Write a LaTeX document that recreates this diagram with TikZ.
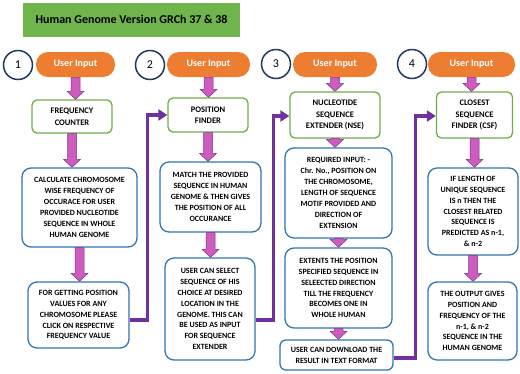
\documentclass[tikz,border=0pt]{standalone}
\usepackage{fontspec}
\setmainfont{Carlito}
\usetikzlibrary{arrows.meta,calc}

\definecolor{titlegreen}{RGB}{112,181,76}
\definecolor{boxgreen}{RGB}{112,173,71}
\definecolor{boxblue}{RGB}{46,117,182}
\definecolor{pillorange}{RGB}{237,125,49}
\definecolor{ringblue}{RGB}{31,56,100}
\definecolor{linkpurple}{RGB}{112,48,160}
\definecolor{arrowpink}{RGB}{204,92,190}
\definecolor{arrowedge}{RGB}{130,50,140}

\tikzset{
  every picture/.style={line width=0.75pt},
  titlebox/.style={fill=titlegreen, minimum width=217pt, minimum height=34pt, font=\bfseries\fontsize{12}{14}\selectfont},
  stepnum/.style={circle, draw=ringblue, line width=1.5pt, fill=white, minimum size=29pt, inner sep=0pt, font=\fontsize{12}{14}\selectfont},
  userpill/.style={fill=pillorange, rounded corners=12pt, minimum height=25pt, text=white, font=\bfseries\fontsize{10}{12}\selectfont},
  toolbox/.style={draw=boxgreen, line width=1.3pt, rounded corners=5pt, fill=white, align=center, inner sep=0pt, font=\bfseries\fontsize{8.5}{11.5}\selectfont},
  infobox/.style={draw=boxblue, line width=1.3pt, rounded corners=9pt, fill=white, align=center, inner sep=0pt, font=\bfseries\fontsize{8}{10.9}\selectfont},
  pinkarr/.style={fill=arrowpink, draw=arrowedge, line width=0.5pt},
  linkarr/.style={draw=linkpurple, line width=3.5pt, -{Triangle[length=9pt,width=11pt]}}
}

\newcommand{\pinkarrow}[2]{%
  \draw[pinkarr] let \p1=(#1.south), \p2=(#2.north) in
    (\x1-4.5pt,\y1) -- (\x1-4.5pt,\y2+8pt) -- (\x1-8.5pt,\y2+8pt) -- (\x1,\y2)
    -- (\x1+8.5pt,\y2+8pt) -- (\x1+4.5pt,\y2+8pt) -- (\x1+4.5pt,\y1) -- cycle;}

\begin{document}
\begin{tikzpicture}[x=1pt, y=-1pt]
    \useasboundingbox (0,0) rectangle (520,373);
    \node[titlebox] (title) at (131.5,19.5) {Human Genome Version GRCh 37 \& 38};

    \node[stepnum] (n1) at (18,65) {1};
    \node[stepnum] (n2) at (150,65) {2};
    \node[stepnum] (n3) at (276,64) {3};
    \node[stepnum] (n4) at (412,64) {4};

    \node[userpill, minimum width=79pt] (u1) at (75.5,64.5) {User Input};
    \node[userpill, minimum width=83pt] (u2) at (208.5,64.5) {User Input};
    \node[userpill, minimum width=84pt] (u3) at (335,64.5) {User Input};
    \node[userpill, minimum width=87pt] (u4) at (471.5,64.5) {User Input};

    \node[toolbox, minimum width=80pt, minimum height=33pt] (g1) at (72,116.5) {FREQUENCY\\COUNTER};
    \node[toolbox, minimum width=80pt, minimum height=34pt] (g2) at (208,115) {POSITION\\FINDER};
    \node[toolbox, minimum width=90pt, minimum height=46pt] (g3) at (335,115) {NUCLEOTIDE\\SEQUENCE\\EXTENDER (NSE)};
    \node[toolbox, minimum width=76pt, minimum height=46pt] (g4) at (474.5,115) {CLOSEST\\SEQUENCE\\FINDER (CSF)};

    \node[infobox, minimum width=115pt, minimum height=79pt] (b1) at (79.5,207.5) {CALCULATE CHROMOSOME\\WISE FREQUENCY OF\\OCCURACE FOR USER\\PROVIDED NUCLEOTIDE\\SEQUENCE IN WHOLE\\HUMAN GENOME};
    \node[infobox, minimum width=101pt, minimum height=66pt] (b2) at (78.5,315) {FOR GETTING POSITION\\VALUES FOR ANY\\CHROMOSOME PLEASE\\CLICK ON RESPECTIVE\\FREQUENCY VALUE};
    \node[infobox, minimum width=101pt, minimum height=70pt] (b3) at (210.5,197) {MATCH THE PROVIDED\\SEQUENCE IN HUMAN\\GENOME \& THEN GIVES\\THE POSITION OF ALL\\OCCURANCE};
    \node[infobox, minimum width=90pt, minimum height=102pt] (b4) at (210,309) {USER CAN SELECT\\SEQUENCE OF HIS\\CHOICE AT DESIRED\\LOCATION IN THE\\GENOME. THIS CAN\\BE USED AS INPUT\\FOR SEQUENCE\\EXTENDER};
    \node[infobox, minimum width=107pt, minimum height=90pt] (b5) at (338.5,193) {REQUIRED INPUT: -\\Chr. No., POSITION ON\\THE CHROMOSOME,\\LENGTH OF SEQUENCE\\MOTIF PROVIDED AND\\DIRECTION OF\\EXTENSION};
    \node[infobox, minimum width=107pt, minimum height=80pt] (b6) at (338.5,288) {EXTENTS THE POSITION\\SPECIFIED SEQUENCE IN\\SELEECTED DIRECTION\\TILL THE FREQUENCY\\BECOMES ONE IN\\WHOLE HUMAN};
    \node[infobox, minimum width=113pt, minimum height=30pt, rounded corners=6pt] (b7) at (336.5,355) {USER CAN DOWNLOAD THE\\RESULT IN TEXT FORMAT};
    \node[infobox, minimum width=90pt, minimum height=87pt] (b8) at (473,211.5) {IF LENGTH OF\\UNIQUE SEQUENCE\\IS n THEN THE\\CLOSEST RELATED\\SEQUENCE IS\\PREDICTED AS n-1,\\\& n-2};
    \node[infobox, minimum width=89pt, minimum height=78pt] (b9) at (472.5,321) {THE OUTPUT GIVES\\POSITION AND\\FREQUENCY OF THE\\n-1, \& n-2\\SEQUENCE IN THE\\HUMAN GENOME};

    \pinkarrow{u1}{g1}
    \pinkarrow{g1}{b1}
    \pinkarrow{b1}{b2}
    \pinkarrow{u2}{g2}
    \pinkarrow{g2}{b3}
    \pinkarrow{b3}{b4}
    \pinkarrow{u3}{g3}
    \pinkarrow{g3}{b5}
    \pinkarrow{b5}{b6}
    \pinkarrow{b6}{b7}
    \pinkarrow{u4}{g4}
    \pinkarrow{g4}{b8}
    \pinkarrow{b8}{b9}

    \draw[linkarr] ([yshift=-5pt]b2.east) -- ++(18,0) |- (g2.west);
    \draw[linkarr] ([yshift=-11pt]b4.east) -- ++(18,0) |- ([yshift=-1pt]g3.west);
    \draw[linkarr] ([yshift=-3pt]b7.east) -- ++(22,0) |- ([yshift=-1pt]g4.west);
\end{tikzpicture}
\end{document}
